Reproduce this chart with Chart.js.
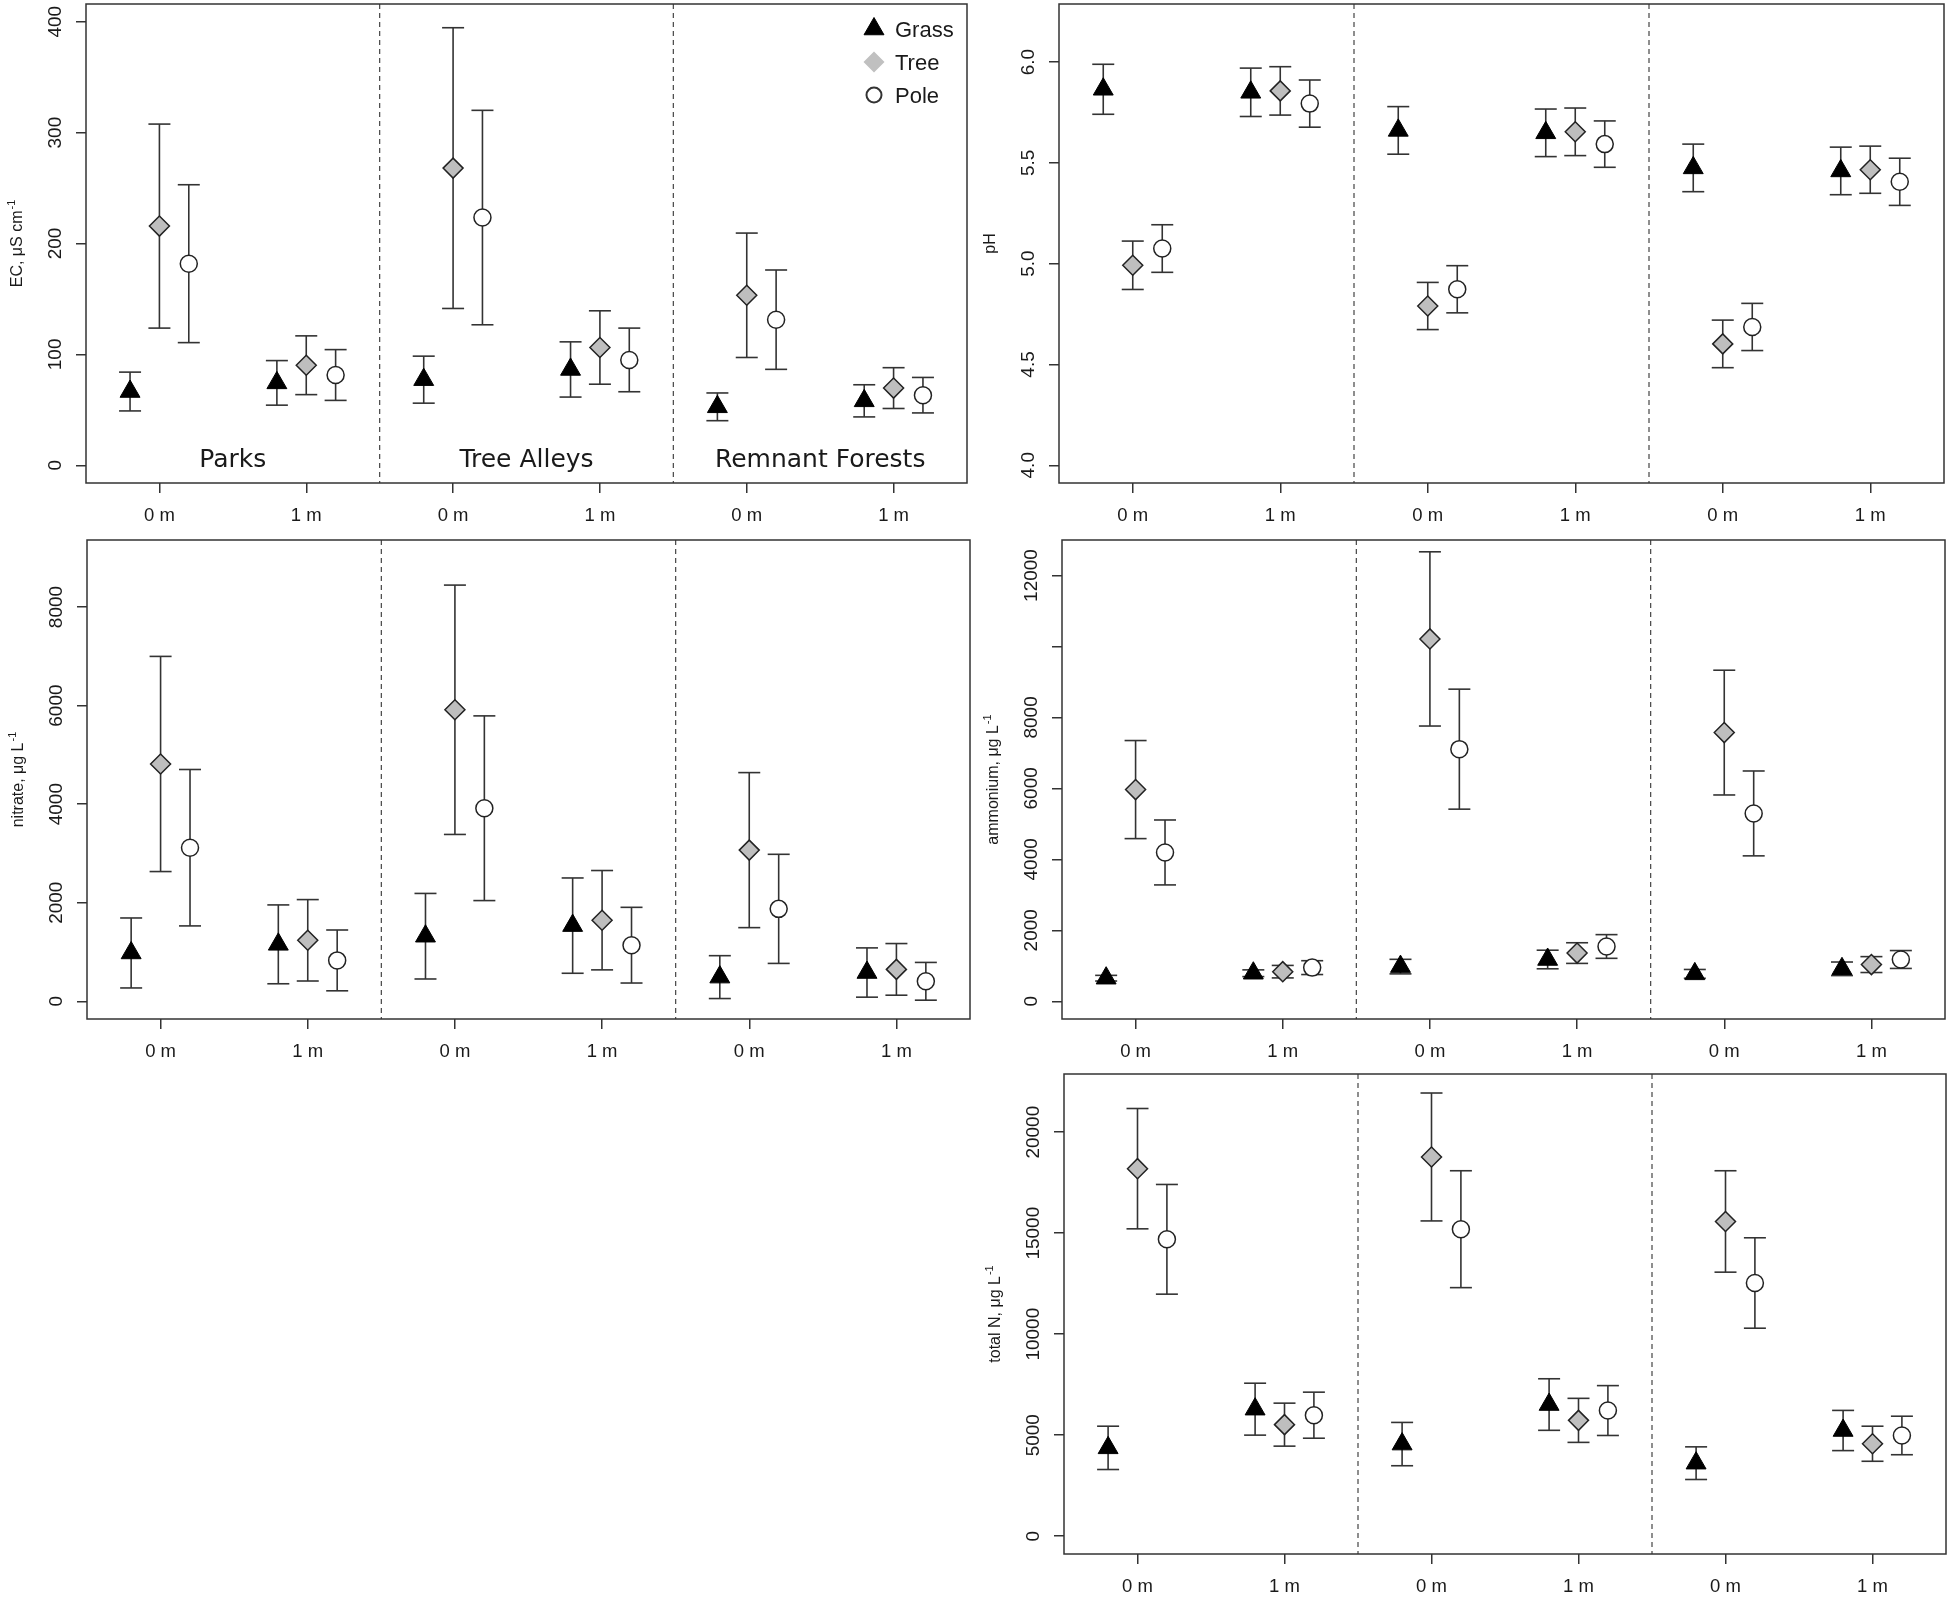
<!DOCTYPE html>
<html>
<head>
<meta charset="utf-8">
<title>Soil water chemistry by site and distance</title>
<script src="https://cdn.jsdelivr.net/npm/chart.js@4.4.1/dist/chart.umd.min.js"></script>
<style>
  html, body { margin: 0; padding: 0; background: #fff; }
  body { width: 1953px; height: 1598px; position: relative; overflow: hidden; }
  canvas { position: absolute; }
</style>
</head>
<body>
<script>
'use strict';

// x axis: three sites, each sampled at 0 m and 1 m
const sites = ['Parks', 'Tree Alleys', 'Remnant Forests'];
const distances = ['0 m', '1 m'];
const positions = [1, 2, 3, 4, 5, 6];
const siteCentres = [1.5, 3.5, 5.5];
const dividers = [2.5, 4.5];
const surfaces = ['Grass', 'Tree', 'Pole'];
const surfaceOffsets = [-0.2, 0, 0.2];

// values in order Parks 0m, Parks 1m, Alleys 0m, Alleys 1m, Forests 0m, Forests 1m
// EC
const ecGrass = [66.5, 74.3, 77.2, 86.4, 52.7, 58.1];
const ecGrassErr = [17.5, 20.1, 21.2, 24.9, 12.5, 14.5];
const ecTree = [215.7, 90.2, 268.0, 106.2, 153.3, 69.6];
const ecTreeErr = [92.0, 26.5, 126.6, 33.1, 56.1, 18.4];
const ecPole = [181.8, 81.4, 223.4, 95.0, 131.3, 63.2];
const ecPoleErr = [71.2, 22.9, 96.7, 28.7, 44.8, 16.0];
const ecTicks = [0, 100, 200, 300, 400];
const ecTickLabels = ['0', '100', '200', '300', '400'];

// pH
const phGrass = [5.865, 5.850, 5.661, 5.649, 5.475, 5.460];
const phGrassErr = [0.124, 0.120, 0.118, 0.118, 0.118, 0.118];
const phTree = [4.992, 5.857, 4.790, 5.654, 4.602, 5.466];
const phTreeErr = [0.120, 0.120, 0.117, 0.118, 0.118, 0.117];
const phPole = [5.075, 5.794, 4.873, 5.593, 4.686, 5.406];
const phPoleErr = [0.118, 0.117, 0.117, 0.115, 0.117, 0.117];
const phTicks = [4.0, 4.5, 5.0, 5.5, 6.0];
const phTickLabels = ['4.0', '4.5', '5.0', '5.5', '6.0'];

// nitrate
const no3Grass = [980, 1155, 1320, 1535, 490, 583];
const no3GrassErr = [710, 800, 868, 967, 435, 500];
const no3Tree = [4815, 1237, 5915, 1645, 3067, 647];
const no3TreeErr = [2183, 826, 2530, 1008, 1573, 524];
const no3Pole = [3116, 829, 3917, 1138, 1875, 405];
const no3PoleErr = [1587, 617, 1874, 768, 1107, 383];
const no3Ticks = [0, 2000, 4000, 6000, 8000];
const no3TickLabels = ['0', '2000', '4000', '6000', '8000'];

// ammonium
const nh4Grass = [650, 790, 977, 1177, 772, 915];
const nh4GrassErr = [80, 95, 205, 262, 124, 191];
const nh4Tree = [5966, 834, 10212, 1358, 7572, 1034];
const nh4TreeErr = [1382, 176, 2455, 291, 1758, 224];
const nh4Pole = [4194, 948, 7105, 1544, 5294, 1177];
const nh4PoleErr = [915, 195, 1691, 334, 1196, 252];
const nh4Ticks = [0, 2000, 4000, 6000, 8000, 10000, 12000];
const nh4TickLabels = ['0', '2000', '4000', '6000', '8000', '', '12000'];

// total N
const tnGrass = [4374, 6289, 4561, 6518, 3616, 5233];
const tnGrassErr = [1072, 1285, 1072, 1276, 808, 995];
const tnTree = [18194, 5523, 18773, 5735, 15581, 4578];
const tnTreeErr = [2978, 1064, 3166, 1090, 2510, 868];
const tnPole = [14697, 5991, 15198, 6221, 12535, 4987];
const tnPoleErr = [2715, 1140, 2893, 1234, 2238, 953];
const tnTicks = [0, 5000, 10000, 15000, 20000];
const tnTickLabels = ['0', '5000', '10000', '15000', '20000'];

const INK = '#1a1a1a';
const SANS = '"Liberation Sans", Arial, sans-serif';
Chart.defaults.font.family = SANS;

const markerStyles = [
    { pointStyle: 'triangle', pointRadius: 11.5, backgroundColor: '#000', borderColor: '#000', borderWidth: 1 },
    { pointStyle: 'rectRot', pointRadius: 10, backgroundColor: '#bebebe', borderColor: '#222', borderWidth: 1.5 },
    { pointStyle: 'circle', pointRadius: 8.5, backgroundColor: '#fff', borderColor: '#222', borderWidth: 1.5 }
];

const panels = [
    { box: [86, 4, 967, 483], ylim: [0, 400], means: [ecGrass, ecTree, ecPole], errs: [ecGrassErr, ecTreeErr, ecPoleErr],
      ticks: ecTicks, tickLabels: ecTickLabels, title: 'EC, \u03bcS cm', sup: '-1', siteLabels: true, legend: true },
    { box: [1059, 4, 1944, 483], ylim: [4, 6.2], means: [phGrass, phTree, phPole], errs: [phGrassErr, phTreeErr, phPoleErr],
      ticks: phTicks, tickLabels: phTickLabels, title: 'pH', sup: '' },
    { box: [87, 540, 970, 1019], ylim: [0, 9000], means: [no3Grass, no3Tree, no3Pole], errs: [no3GrassErr, no3TreeErr, no3PoleErr],
      ticks: no3Ticks, tickLabels: no3TickLabels, title: 'nitrate, \u03bcg L', sup: '-1' },
    { box: [1062, 540, 1945, 1019], ylim: [0, 12500], means: [nh4Grass, nh4Tree, nh4Pole], errs: [nh4GrassErr, nh4TreeErr, nh4PoleErr],
      ticks: nh4Ticks, tickLabels: nh4TickLabels, title: 'ammonium, \u03bcg L', sup: '-1' },
    { box: [1064, 1074, 1946, 1554], ylim: [0, 22000], means: [tnGrass, tnTree, tnPole], errs: [tnGrassErr, tnTreeErr, tnPoleErr],
      ticks: tnTicks, tickLabels: tnTickLabels, title: 'total N, \u03bcg L', sup: '-1' }
];

function strokeLine(ctx, x1, y1, x2, y2) {
    ctx.beginPath();
    ctx.moveTo(x1, y1);
    ctx.lineTo(x2, y2);
    ctx.stroke();
}

// dividers, error bars, box, rotated y labels, site labels and legend
const panelDecor = {
    id: 'panelDecor',
    beforeDatasetsDraw(chart, args, opts) {
        const { ctx, chartArea: a, scales: { x, y } } = chart;
        ctx.save();
        ctx.strokeStyle = '#444';
        ctx.lineWidth = 1.2;
        ctx.setLineDash([5, 4]);
        dividers.forEach(v => {
            const px = x.getPixelForValue(v);
            strokeLine(ctx, px, a.top, px, a.bottom);
        });
        ctx.setLineDash([]);

        ctx.strokeStyle = '#333';
        ctx.lineWidth = 1.6;
        chart.data.datasets.forEach(ds => {
            ds.data.forEach(p => {
                const px = x.getPixelForValue(p.x);
                const hi = y.getPixelForValue(p.y + p.err);
                const lo = y.getPixelForValue(p.y - p.err);
                strokeLine(ctx, px, hi, px, lo);
                strokeLine(ctx, px - 11, hi, px + 11, hi);
                strokeLine(ctx, px - 11, lo, px + 11, lo);
            });
        });
        ctx.restore();
    },
    afterDraw(chart, args, opts) {
        const { ctx, chartArea: a, scales: { x, y } } = chart;
        ctx.save();
        ctx.strokeStyle = '#333';
        ctx.lineWidth = 1.5;
        ctx.strokeRect(a.left, a.top, a.right - a.left, a.bottom - a.top);

        // y tick labels, parallel to the axis
        ctx.fillStyle = INK;
        ctx.textAlign = 'center';
        ctx.textBaseline = 'alphabetic';
        ctx.font = '19px ' + SANS;
        opts.ticks.forEach((v, i) => {
            ctx.save();
            ctx.translate(a.left - 25, y.getPixelForValue(v));
            ctx.rotate(-Math.PI / 2);
            ctx.fillText(opts.tickLabels[i], 0, 0);
            ctx.restore();
        });

        // y title with superscript
        ctx.save();
        ctx.translate(a.left - 64, (a.top + a.bottom) / 2);
        ctx.rotate(-Math.PI / 2);
        ctx.textAlign = 'left';
        ctx.font = '16px ' + SANS;
        const wMain = ctx.measureText(opts.title).width;
        ctx.font = '11px ' + SANS;
        const wSup = opts.sup ? ctx.measureText(opts.sup).width + 1 : 0;
        const start = -(wMain + wSup) / 2;
        ctx.font = '16px ' + SANS;
        ctx.fillText(opts.title, start, 0);
        if (opts.sup) {
            ctx.font = '11px ' + SANS;
            ctx.fillText(opts.sup, start + wMain + 1, -7);
        }
        ctx.restore();

        if (opts.siteLabels) {
            ctx.font = '25px "DejaVu Sans", sans-serif';
            ctx.textAlign = 'center';
            const base = y.getPixelForValue(0) + 2;
            sites.forEach((s, i) => ctx.fillText(s, x.getPixelForValue(siteCentres[i]), base));
        }

        if (opts.legend) {
            const mx = a.right - 93;
            const tx = a.right - 72;
            const looks = [
                { fill: '#000', stroke: '#000', width: 1, style: 'triangle', radius: 11.5 },
                { fill: '#c0c0c0', stroke: '#c0c0c0', width: 0, style: 'rectRot', radius: 10.5 },
                { fill: 'rgba(0,0,0,0)', stroke: '#333', width: 2, style: 'circle', radius: 7.5 }
            ];
            surfaces.forEach((s, i) => {
                const base = a.top + 33 + i * 33;
                const lk = looks[i];
                ctx.fillStyle = lk.fill;
                ctx.strokeStyle = lk.stroke;
                ctx.lineWidth = lk.width;
                Chart.helpers.drawPoint(ctx, { pointStyle: lk.style, radius: lk.radius, rotation: 0, borderWidth: lk.width }, mx, base - 8);
                ctx.fillStyle = INK;
                ctx.font = '22px ' + SANS;
                ctx.textAlign = 'left';
                ctx.fillText(s, tx, base);
            });
        }
        ctx.restore();
    }
};

function buildPanel(p) {
    const [l, t, r, b] = p.box;
    const padL = 92, padT = 4, padR = 6, padB = 62;
    const w = r - l + padL + padR;
    const h = b - t + padT + padB;
    const canvas = document.createElement('canvas');
    canvas.width = w;
    canvas.height = h;
    canvas.style.left = (l - padL) + 'px';
    canvas.style.top = (t - padT) + 'px';
    canvas.style.width = w + 'px';
    canvas.style.height = h + 'px';
    document.body.appendChild(canvas);

    const span = p.ylim[1] - p.ylim[0];
    const tickGrid = { drawOnChartArea: false, drawTicks: true, tickLength: 10, color: '#333', lineWidth: 1.5 };

    new Chart(canvas, {
        type: 'scatter',
        data: {
            datasets: surfaces.map((s, k) => Object.assign({
                label: s,
                data: positions.map((pos, i) => ({ x: pos + surfaceOffsets[k], y: p.means[k][i], err: p.errs[k][i] }))
            }, markerStyles[k]))
        },
        options: {
            responsive: false,
            animation: false,
            events: [],
            layout: { autoPadding: false, padding: { top: padT, right: padR, left: 0, bottom: 0 } },
            plugins: {
                legend: { display: false },
                tooltip: { enabled: false },
                panelDecor: p
            },
            scales: {
                x: {
                    type: 'linear',
                    min: 0.5,
                    max: 6.5,
                    afterBuildTicks: s => { s.ticks = positions.map(v => ({ value: v })); },
                    afterFit: s => { s.height = padB; },
                    grid: tickGrid,
                    border: { display: false },
                    ticks: {
                        autoSkip: false,
                        maxRotation: 0,
                        padding: 12,
                        color: INK,
                        font: { size: 18.5 },
                        callback: v => distances[(Math.round(v) - 1) % 2]
                    }
                },
                y: {
                    min: p.ylim[0] - 0.04 * span,
                    max: p.ylim[1] + 0.04 * span,
                    afterBuildTicks: s => { s.ticks = p.ticks.map(v => ({ value: v })); },
                    afterFit: s => { s.width = padL; },
                    grid: tickGrid,
                    border: { display: false },
                    ticks: { display: false }
                }
            }
        },
        plugins: [panelDecor]
    });
}

panels.forEach(buildPanel);
</script>
</body>
</html>
